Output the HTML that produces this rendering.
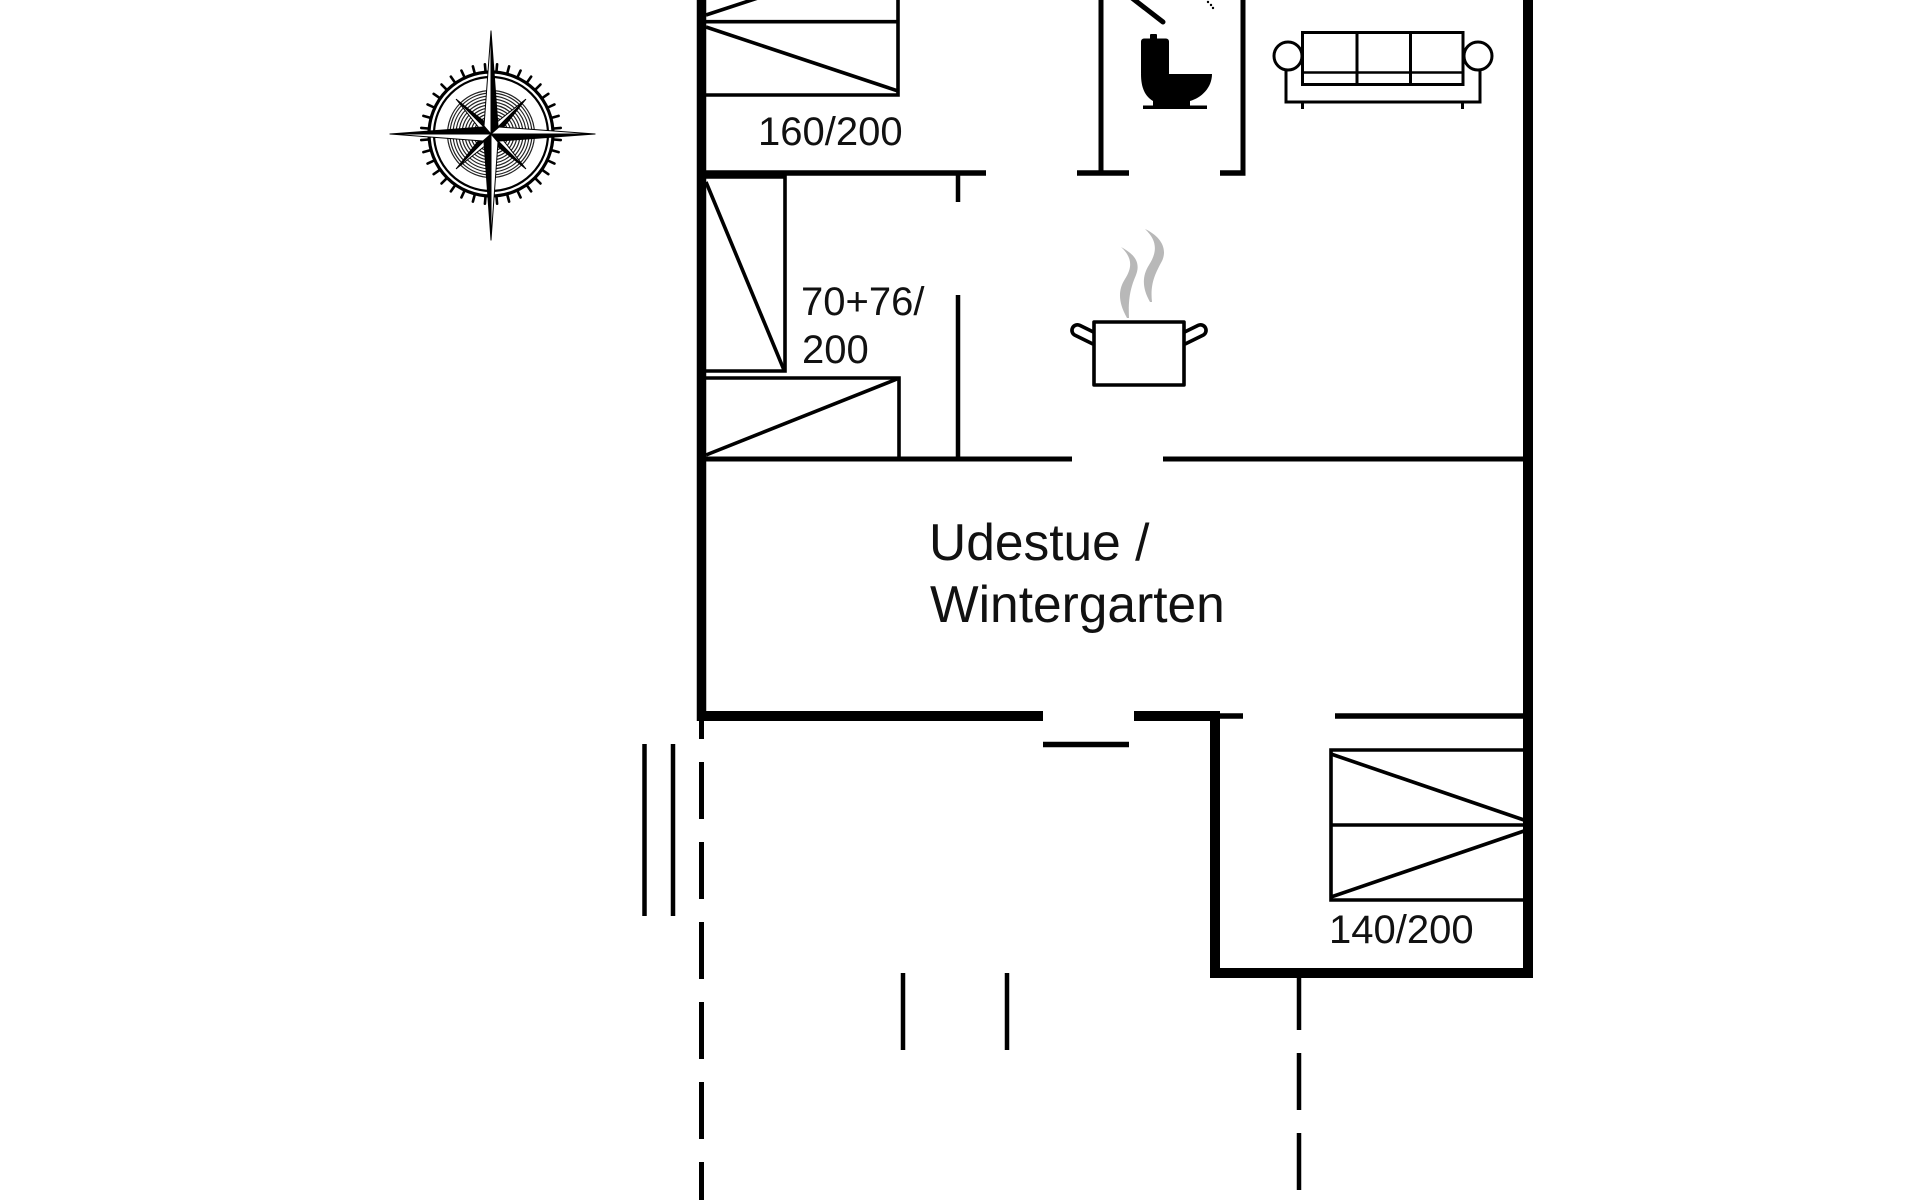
<!DOCTYPE html>
<html>
<head>
<meta charset="utf-8">
<style>
  html, body { margin: 0; padding: 0; background: #ffffff; }
  body { width: 1920px; height: 1200px; overflow: hidden; }
  svg { display: block; }
  text { font-family: "Liberation Sans", Arial, sans-serif; fill: #111; }
</style>
</head>
<body>
<svg width="1920" height="1200" viewBox="0 0 1920 1200" xmlns="http://www.w3.org/2000/svg">
  <rect x="0" y="0" width="1920" height="1200" fill="#fff"/>

  <!-- ================= COMPASS ================= -->
  <g id="compass">
    <g fill="none" stroke="#222" stroke-width="1.2">
      <circle cx="491" cy="134" r="14"/>
      <circle cx="491" cy="134" r="17"/>
      <circle cx="491" cy="134" r="20"/>
      <circle cx="491" cy="134" r="23"/>
      <circle cx="491" cy="134" r="26"/>
      <circle cx="491" cy="134" r="29"/>
      <circle cx="491" cy="134" r="32"/>
      <circle cx="491" cy="134" r="35"/>
      <circle cx="491" cy="134" r="38"/>
      <circle cx="491" cy="134" r="41"/>
      <circle cx="491" cy="134" r="43.5"/>
    </g>
    <circle cx="491" cy="134" r="62" fill="none" stroke="#000" stroke-width="3.2"/>
    <circle cx="491" cy="134" r="57" fill="none" stroke="#000" stroke-width="2.2"/>
    <g stroke="#000" stroke-width="2.6" stroke-linecap="round">
      <line x1="491" y1="64" x2="491" y2="71" transform="rotate(5 491 134)"/>
      <line x1="491" y1="64" x2="491" y2="71" transform="rotate(15 491 134)"/>
      <line x1="491" y1="64" x2="491" y2="71" transform="rotate(25 491 134)"/>
      <line x1="491" y1="64" x2="491" y2="71" transform="rotate(35 491 134)"/>
      <line x1="491" y1="64" x2="491" y2="71" transform="rotate(45 491 134)"/>
      <line x1="491" y1="64" x2="491" y2="71" transform="rotate(55 491 134)"/>
      <line x1="491" y1="64" x2="491" y2="71" transform="rotate(65 491 134)"/>
      <line x1="491" y1="64" x2="491" y2="71" transform="rotate(75 491 134)"/>
      <line x1="491" y1="64" x2="491" y2="71" transform="rotate(85 491 134)"/>
      <line x1="491" y1="64" x2="491" y2="71" transform="rotate(95 491 134)"/>
      <line x1="491" y1="64" x2="491" y2="71" transform="rotate(105 491 134)"/>
      <line x1="491" y1="64" x2="491" y2="71" transform="rotate(115 491 134)"/>
      <line x1="491" y1="64" x2="491" y2="71" transform="rotate(125 491 134)"/>
      <line x1="491" y1="64" x2="491" y2="71" transform="rotate(135 491 134)"/>
      <line x1="491" y1="64" x2="491" y2="71" transform="rotate(145 491 134)"/>
      <line x1="491" y1="64" x2="491" y2="71" transform="rotate(155 491 134)"/>
      <line x1="491" y1="64" x2="491" y2="71" transform="rotate(165 491 134)"/>
      <line x1="491" y1="64" x2="491" y2="71" transform="rotate(175 491 134)"/>
      <line x1="491" y1="64" x2="491" y2="71" transform="rotate(185 491 134)"/>
      <line x1="491" y1="64" x2="491" y2="71" transform="rotate(195 491 134)"/>
      <line x1="491" y1="64" x2="491" y2="71" transform="rotate(205 491 134)"/>
      <line x1="491" y1="64" x2="491" y2="71" transform="rotate(215 491 134)"/>
      <line x1="491" y1="64" x2="491" y2="71" transform="rotate(225 491 134)"/>
      <line x1="491" y1="64" x2="491" y2="71" transform="rotate(235 491 134)"/>
      <line x1="491" y1="64" x2="491" y2="71" transform="rotate(245 491 134)"/>
      <line x1="491" y1="64" x2="491" y2="71" transform="rotate(255 491 134)"/>
      <line x1="491" y1="64" x2="491" y2="71" transform="rotate(265 491 134)"/>
      <line x1="491" y1="64" x2="491" y2="71" transform="rotate(275 491 134)"/>
      <line x1="491" y1="64" x2="491" y2="71" transform="rotate(285 491 134)"/>
      <line x1="491" y1="64" x2="491" y2="71" transform="rotate(295 491 134)"/>
      <line x1="491" y1="64" x2="491" y2="71" transform="rotate(305 491 134)"/>
      <line x1="491" y1="64" x2="491" y2="71" transform="rotate(315 491 134)"/>
      <line x1="491" y1="64" x2="491" y2="71" transform="rotate(325 491 134)"/>
      <line x1="491" y1="64" x2="491" y2="71" transform="rotate(335 491 134)"/>
      <line x1="491" y1="64" x2="491" y2="71" transform="rotate(345 491 134)"/>
      <line x1="491" y1="64" x2="491" y2="71" transform="rotate(355 491 134)"/>
    </g>
    <g stroke="#000" stroke-width="1" stroke-linejoin="round">
      <g transform="rotate(45 491 134)">
        <path d="M491,134 L491,85 L486,128 Z" fill="#fff"/>
        <path d="M491,134 L491,85 L496,128 Z" fill="#000"/>
      </g>
      <g transform="rotate(135 491 134)">
        <path d="M491,134 L491,85 L486,128 Z" fill="#fff"/>
        <path d="M491,134 L491,85 L496,128 Z" fill="#000"/>
      </g>
      <g transform="rotate(225 491 134)">
        <path d="M491,134 L491,85 L486,128 Z" fill="#fff"/>
        <path d="M491,134 L491,85 L496,128 Z" fill="#000"/>
      </g>
      <g transform="rotate(315 491 134)">
        <path d="M491,134 L491,85 L486,128 Z" fill="#fff"/>
        <path d="M491,134 L491,85 L496,128 Z" fill="#000"/>
      </g>
    </g>
    <g stroke="#000" stroke-width="1" stroke-linejoin="round">
      <g>
        <path d="M491,134 L491,31 L484,126 Z" fill="#fff"/>
        <path d="M491,134 L491,31 L498,126 Z" fill="#000"/>
      </g>
      <g transform="rotate(90 491 134)">
        <path d="M491,134 L491,30 L484,126 Z" fill="#fff"/>
        <path d="M491,134 L491,30 L498,126 Z" fill="#000"/>
      </g>
      <g transform="rotate(180 491 134)">
        <path d="M491,134 L491,28 L484,126 Z" fill="#fff"/>
        <path d="M491,134 L491,28 L498,126 Z" fill="#000"/>
      </g>
      <g transform="rotate(270 491 134)">
        <path d="M491,134 L491,33 L484,126 Z" fill="#fff"/>
        <path d="M491,134 L491,33 L498,126 Z" fill="#000"/>
      </g>
    </g>
  </g>

  <!-- ================= BEDS ================= -->
  <g fill="none" stroke="#000" stroke-width="3.6">
    <polyline points="706,-10 898,-10 898,95 706,95"/>
    <line x1="706" y1="21.7" x2="898" y2="21.7"/>
    <line x1="706" y1="15" x2="898" y2="-48"/>
    <line x1="706" y1="27" x2="898" y2="91"/>

    <polyline points="706,177 785,177 785,371 706,371"/>
    <line x1="706" y1="182" x2="784" y2="370"/>

    <polyline points="706,378 899,378 899,458"/>
    <line x1="706" y1="455" x2="897" y2="379"/>

    <polyline points="1525,750 1331,750 1331,900 1525,900"/>
    <line x1="1331" y1="825" x2="1525" y2="825"/>
    <line x1="1331" y1="754" x2="1524" y2="820"/>
    <line x1="1524" y1="831" x2="1331" y2="897"/>
  </g>

  <!-- ================= WALLS ================= -->
  <g stroke="#000" fill="none" stroke-linecap="butt">
    <line x1="701.5" y1="0" x2="701.5" y2="721" stroke-width="9.5"/>
    <line x1="1528" y1="0" x2="1528" y2="978" stroke-width="10"/>
    <line x1="697" y1="716" x2="1043" y2="716" stroke-width="10"/>
    <line x1="1134" y1="716" x2="1220" y2="716" stroke-width="10"/>
    <line x1="1215" y1="711" x2="1215" y2="978" stroke-width="10"/>
    <line x1="1210" y1="973" x2="1533" y2="973" stroke-width="10"/>

    <line x1="1220" y1="716" x2="1243" y2="716" stroke-width="5.5"/>
    <line x1="1335" y1="716" x2="1524" y2="716" stroke-width="5.5"/>
    <line x1="706" y1="173" x2="986" y2="173" stroke-width="5.5"/>
    <line x1="958" y1="173" x2="958" y2="202" stroke-width="4.5"/>
    <line x1="958" y1="295" x2="958" y2="459" stroke-width="4.5"/>
    <line x1="706" y1="459" x2="1072" y2="459" stroke-width="5"/>
    <line x1="1163" y1="459" x2="1524" y2="459" stroke-width="5"/>

    <line x1="1101" y1="0" x2="1101" y2="173" stroke-width="5"/>
    <line x1="1077" y1="173" x2="1129" y2="173" stroke-width="5.5"/>
    <line x1="1243" y1="0" x2="1243" y2="175.5" stroke-width="5"/>
    <line x1="1220" y1="173" x2="1245.5" y2="173" stroke-width="5.5"/>

    <line x1="1043" y1="744.5" x2="1129" y2="744.5" stroke-width="5.5"/>

    <g stroke-width="5">
      <line x1="701.5" y1="721" x2="701.5" y2="739"/>
      <line x1="701.5" y1="762" x2="701.5" y2="819"/>
      <line x1="701.5" y1="842" x2="701.5" y2="899"/>
      <line x1="701.5" y1="922" x2="701.5" y2="979"/>
      <line x1="701.5" y1="1002" x2="701.5" y2="1059"/>
      <line x1="701.5" y1="1082" x2="701.5" y2="1139"/>
      <line x1="701.5" y1="1162" x2="701.5" y2="1200"/>
    </g>
    <g stroke-width="4.5">
      <line x1="1299" y1="977" x2="1299" y2="1030"/>
      <line x1="1299" y1="1053" x2="1299" y2="1110"/>
      <line x1="1299" y1="1133" x2="1299" y2="1190"/>
    </g>
    <g stroke-width="4.5">
      <line x1="644.5" y1="744" x2="644.5" y2="916"/>
      <line x1="673" y1="744" x2="673" y2="916"/>
      <line x1="903" y1="973" x2="903" y2="1050"/>
      <line x1="1007" y1="973" x2="1007" y2="1050"/>
    </g>
  </g>

  <!-- ================= TOILET ================= -->
  <g fill="#000">
    <rect x="1150" y="34" width="7" height="6" rx="1"/>
    <rect x="1141" y="38.5" width="28" height="38" rx="3"/>
    <path d="M1141,74 L1212,74 C1212,88 1201,98 1190,101 L1190,107 L1153,107 L1153,101 C1145,96 1141,88 1141,74 Z"/>
    <rect x="1143" y="105.5" width="64" height="3.5"/>
  </g>
  <line x1="1132" y1="-2" x2="1163" y2="22" stroke="#000" stroke-width="5" stroke-linecap="round"/>
  <g fill="#000">
    <circle cx="1208" cy="2" r="1.2"/>
    <circle cx="1211" cy="5" r="1.2"/>
    <circle cx="1213" cy="8" r="1.2"/>
  </g>

  <!-- ================= SOFA ================= -->
  <g fill="none" stroke="#000" stroke-width="3">
    <polyline points="1286,66 1286,102 1480,102 1480,66"/>
    <circle cx="1288" cy="56" r="14" fill="#fff"/>
    <circle cx="1478" cy="56" r="14" fill="#fff"/>
    <rect x="1302.5" y="32.5" width="160.5" height="52" fill="#fff"/>
    <line x1="1357" y1="32.5" x2="1357" y2="84.5"/>
    <line x1="1410.5" y1="32.5" x2="1410.5" y2="84.5"/>
    <line x1="1302.5" y1="72.5" x2="1463" y2="72.5" stroke-width="2.4"/>
    <line x1="1302.5" y1="102" x2="1302.5" y2="109"/>
    <line x1="1462.5" y1="102" x2="1462.5" y2="109"/>
  </g>

  <!-- ================= POT ================= -->
  <g stroke="#000" stroke-width="3.6" fill="#fff" stroke-linejoin="round">
    <rect x="1071" y="329" width="30" height="11" rx="5.5" transform="rotate(26 1086 334.5)"/>
    <rect x="1177" y="329" width="30" height="11" rx="5.5" transform="rotate(-26 1192 334.5)"/>
    <rect x="1094" y="322" width="90" height="63"/>
  </g>
  <!-- steam -->
  <g fill="#b8b8b8" stroke="none">
    <path d="M1127,318 C1118,302 1118,290 1125,279 C1132,268 1133,258 1121,247 C1134,254 1141,262 1136,275 C1131,287 1128,297 1129,318 Z"/>
    <path d="M1150,302 C1142,288 1142,276 1149,265 C1156,254 1159,242 1145,229 C1160,236 1168,248 1162,261 C1155,274 1150,284 1152,302 Z"/>
  </g>

  <!-- ================= TEXT ================= -->
  <text x="758" y="145" font-size="40">160/200</text>
  <text x="801" y="315" font-size="40">70+76/</text>
  <text x="802" y="363" font-size="40">200</text>
  <text x="929" y="560" font-size="51.5">Udestue /</text>
  <text x="930" y="622" font-size="51.5">Wintergarten</text>
  <text x="1329" y="943" font-size="40">140/200</text>
</svg>
</body>
</html>
